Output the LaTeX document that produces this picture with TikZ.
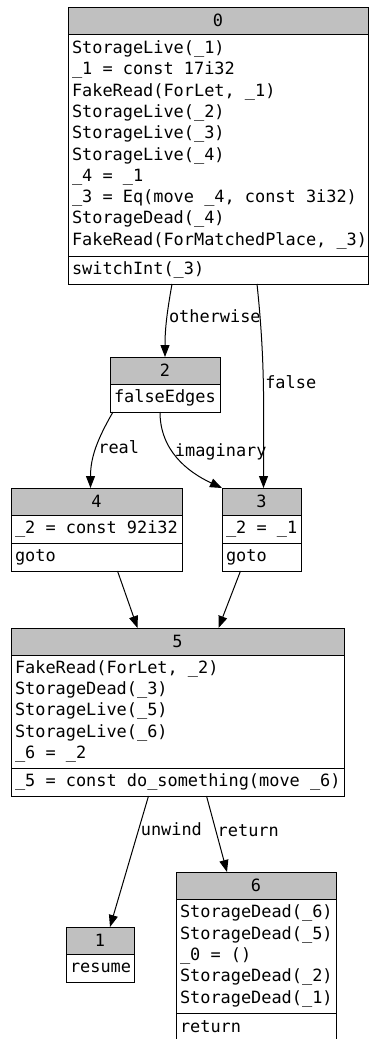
\documentclass[tikz,border=0pt]{standalone}
\usepackage{fontspec}
\setmonofont{DejaVu Sans Mono}
\usetikzlibrary{arrows.meta}
\definecolor{silver}{HTML}{C0C0C0}
\newcommand\mirfont{\ttfamily\fontsize{16.9bp}{21.3bp}\selectfont
  \fontdimen2\font=\fontcharwd\font`x\relax}
\def\hdrH{27bp}
\def\rowH{28bp}

\begin{document}
\begin{tikzpicture}[
    x=1bp, y=1bp,
    font=\mirfont,
    line width=1bp,
    execute at begin node={\spaceskip=\fontcharwd\font`x\relax},
    hdr/.style={
      draw, fill=silver, anchor=north west,
      minimum height=\hdrH, inner sep=0pt, outer sep=0pt
    },
    stmts/.style={
      draw, anchor=north west, align=left,
      minimum height=\rowH, inner xsep=4bp, inner ysep=0pt, outer sep=0pt,
      execute at begin node={\rightskip=-6bp plus 1fil}
    },
    arrowtip/.style={
      -{Triangle[length=12bp,width=9bp]}
    },
    lbl/.style={
      anchor=west, inner sep=1.5bp
    }
  ]
    \useasboundingbox (0,0) rectangle (369,-1039);

    % block 0
    \node[hdr, minimum width=300bp] (B0)  at (68,-7)         {0};
    \node[stmts, text width=292bp, minimum height=222bp] (B0s) at (B0.south west) {
      StorageLive(\_1)\\
      \_1 = const 17i32\\
      FakeRead(ForLet, \_1)\\
      StorageLive(\_2)\\
      StorageLive(\_3)\\
      StorageLive(\_4)\\
      \_4 = \_1\\
      \_3 = Eq(move \_4, const 3i32)\\
      StorageDead(\_4)\\
      FakeRead(ForMatchedPlace, \_3)};
    \node[stmts, text width=292bp] (B0t) at (B0s.south west) {switchInt(\_3)};

    % block 2
    \node[hdr, minimum width=110bp] (B2)  at (110,-357)      {2};
    \node[stmts, text width=102bp]  (B2t) at (B2.south west) {falseEdges};

    % block 4
    \node[hdr, minimum width=171bp] (B4)  at (11,-488)        {4};
    \node[stmts, text width=163bp]  (B4s) at (B4.south west)  {\_2 = const 92i32};
    \node[stmts, text width=163bp]  (B4t) at (B4s.south west) {goto};

    % block 3
    \node[hdr, minimum width=79bp] (B3)  at (222,-488)       {3};
    \node[stmts, text width=71bp]  (B3s) at (B3.south west)  {\_2 = \_1};
    \node[stmts, text width=71bp]  (B3t) at (B3s.south west) {goto};

    % block 5
    \node[hdr, minimum width=333bp] (B5)  at (11,-628) {5};
    \node[stmts, text width=325bp, minimum height=113bp] (B5s) at (B5.south west) {
      FakeRead(ForLet, \_2)\\
      StorageDead(\_3)\\
      StorageLive(\_5)\\
      StorageLive(\_6)\\
      \_6 = \_2};
    \node[stmts, text width=325bp] (B5t) at (B5s.south west) {\_5 = const do\_something(move \_6)};

    % block 1
    \node[hdr, minimum width=68bp] (B1)  at (66,-927)       {1};
    \node[stmts, text width=60bp]  (B1t) at (B1.south west) {resume};

    % block 6
    \node[hdr, minimum width=160bp] (B6)  at (176,-872) {6};
    \node[stmts, text width=152bp, minimum height=114bp] (B6s) at (B6.south west) {
      StorageDead(\_6)\\
      StorageDead(\_5)\\
      \_0 = ()\\
      StorageDead(\_2)\\
      StorageDead(\_1)};
    \node[stmts, text width=152bp] (B6t) at (B6s.south west) {return};

    % edges
    \draw[arrowtip] ([xshift=-46bp]B0t.south) to[out=-100,in=90]
      node[lbl,pos=0.44] {otherwise} (B2.north);
    \draw[arrowtip] ([xshift=39bp]B0t.south) to[out=-84,in=90]
      node[lbl,pos=0.48] {false} ([xshift=2bp]B3.north);
    \draw[arrowtip] ([xshift=-52bp]B2t.south) to[out=-120,in=90]
      node[lbl,pos=0.48] {real} ([xshift=-6bp]B4.north);
    \draw[arrowtip] ([xshift=-5bp]B2t.south) to[out=-90,in=155]
      node[lbl,pos=0.42] {imaginary} (B3.north west);

    \draw[arrowtip] ([xshift=21bp]B4t.south)  -- ([xshift=-40bp]B5.north);
    \draw[arrowtip] ([xshift=-21bp]B3t.south) -- ([xshift=41bp]B5.north);

    \draw[arrowtip] ([xshift=-29bp]B5t.south) -- ([xshift=10bp]B1.north)
      node[lbl,pos=0.25] {unwind};
    \draw[arrowtip] ([xshift=29bp]B5t.south)  -- ([xshift=-29bp]B6.north)
      node[lbl,pos=0.45] {return};
  \end{tikzpicture}
\end{document}
